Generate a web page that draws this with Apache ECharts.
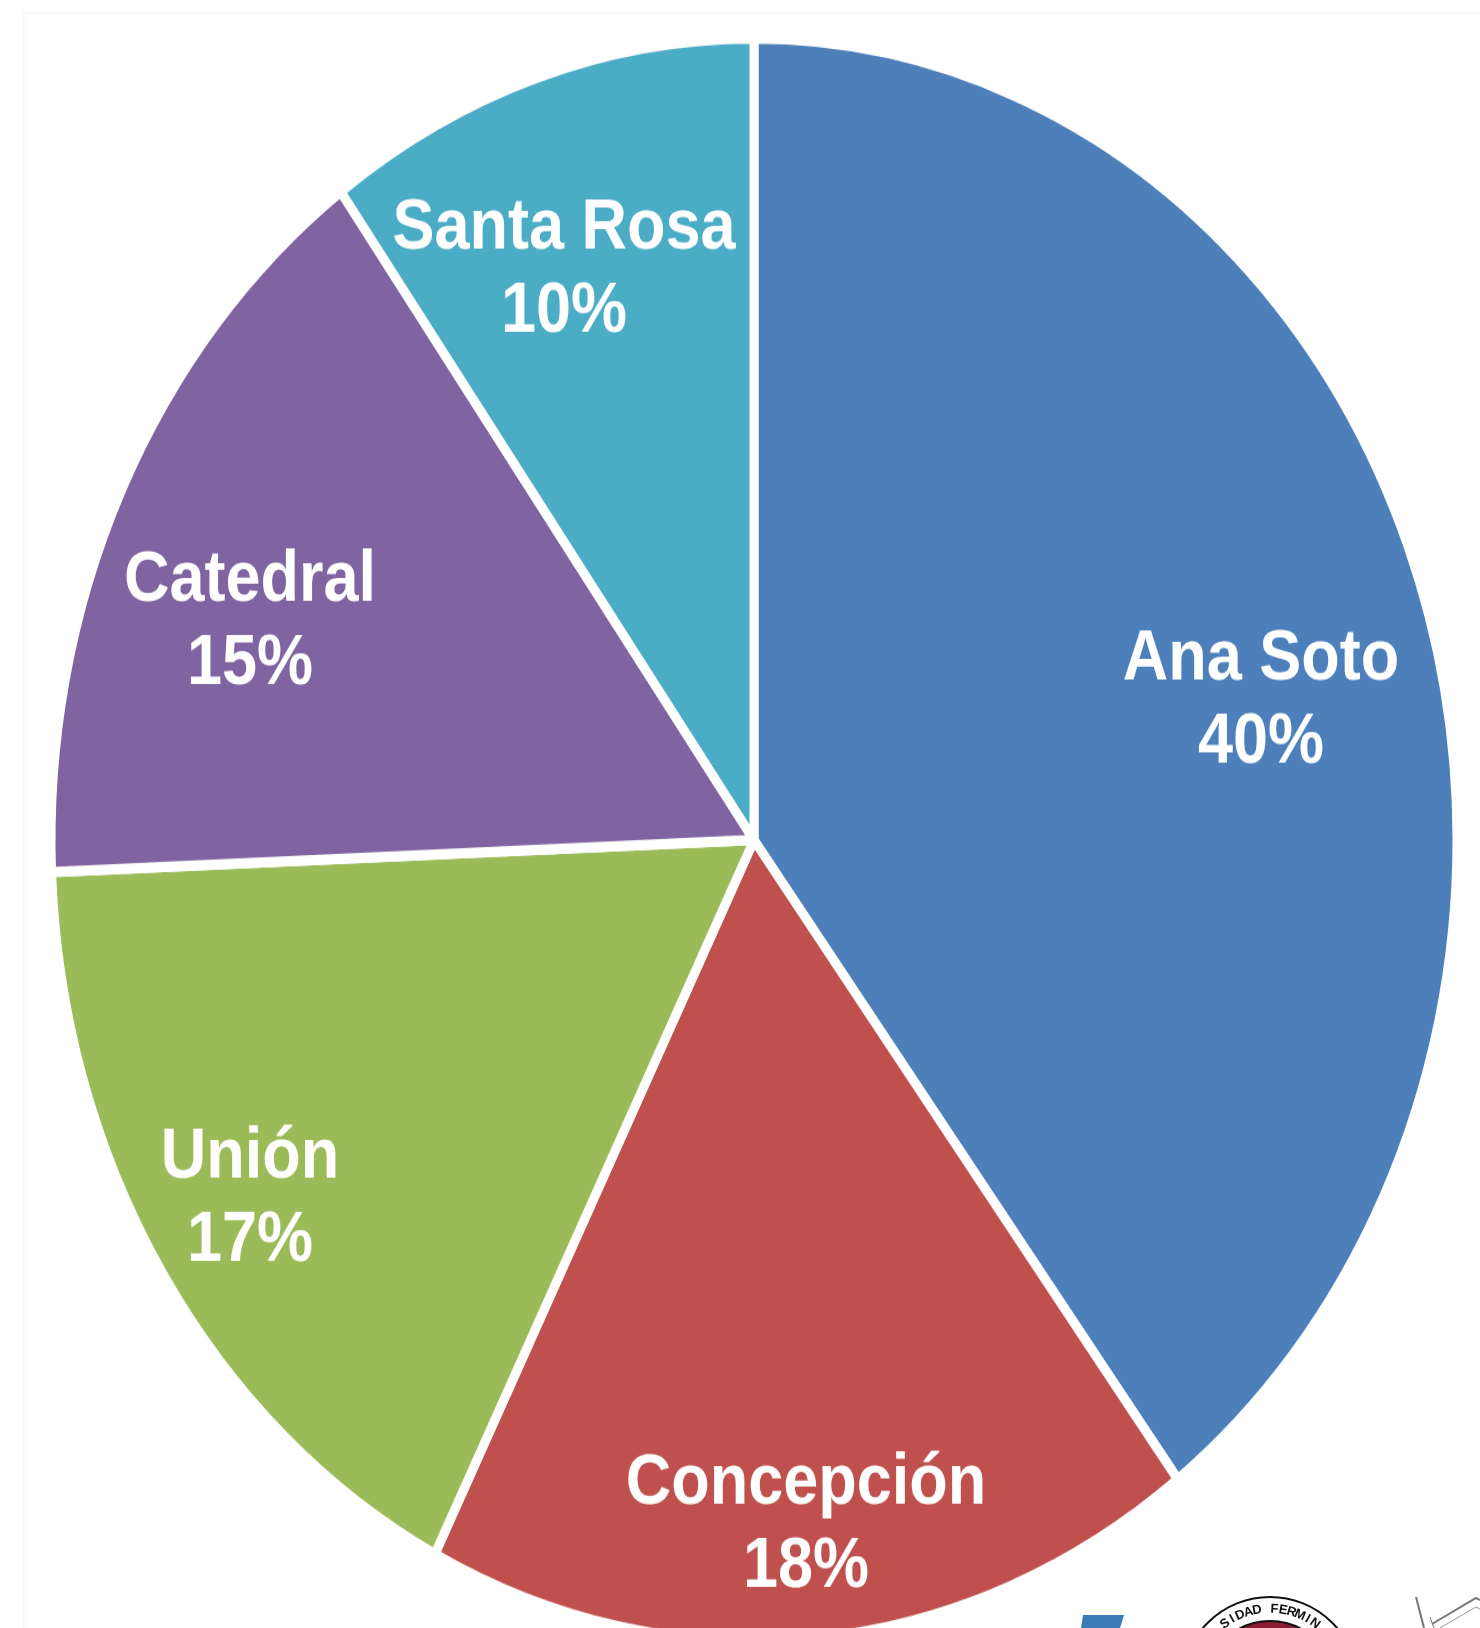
<!DOCTYPE html>
<html>
<head>
<meta charset="utf-8">
<title>Pie</title>
<script src="https://cdn.jsdelivr.net/npm/echarts@6/dist/echarts.min.js"></script>
<style>
    html, body { margin: 0; padding: 0; background: #fff; overflow: hidden; }
    #page { position: relative; width: 1480px; height: 1628px; overflow: hidden; }
    /* the original picture is stretched vertically, so the whole pie is too */
    #pie { position: absolute; left: 0; top: 0; width: 1480px; height: 1429px; transform: scaleY(1.14); transform-origin: 0 0; }
    #extras { position: absolute; left: 0; top: 0; width: 1480px; height: 1628px; }
</style>
</head>
<body>
<div id="page">
    <div id="extras"></div>
    <div id="pie"></div>
</div>
<script>
// slice sizes as measured on the picture, percentLabels is what the picture prints
var categories = ["Ana Soto", "Concepción", "Unión", "Catedral", "Santa Rosa"];
var sliceValues = [39.7, 17.8, 16.86, 15.64, 10.0];
var percentLabels = ["40%", "18%", "17%", "15%", "10%"];
var sliceColors = ["#4D7FBB", "#C0504D", "#9BBB59", "#8064A2", "#4BACC6"];

var STRETCH = 1.14;

// label centres, page pixels
var labelCenters = [[1261, 701], [806, 1525], [250, 1199], [250, 623], [564, 270]];

function initPie() {
    var pieChart = echarts.init(document.getElementById('pie'));

    var pieData = [];
    for (var i = 0; i < categories.length; i++) {
        pieData.push({
            name: categories[i],
            value: sliceValues[i],
            itemStyle: { color: sliceColors[i] }
        });
    }

    pieChart.setOption({
        animation: false,
        backgroundColor: 'transparent',
        series: [{
            type: 'pie',
            center: [754, 840 / STRETCH],
            radius: [0, 703],
            startAngle: 90,
            clockwise: true,
            avoidLabelOverlap: false,
            data: pieData,
            itemStyle: {
                borderColor: '#fff',
                borderWidth: 9
            },
            label: {
                show: true,
                position: 'inside',
                formatter: function (p) {
                    return p.name + "\n" + percentLabels[p.dataIndex];
                },
                color: '#fff',
                fontFamily: '"Liberation Sans", Arial, sans-serif',
                fontWeight: 'bold',
                fontSize: 63,
                lineHeight: 73,
                align: 'center',
                verticalAlign: 'middle'
            },
            labelLine: { show: false },
            labelLayout: function (params) {
                var c = labelCenters[params.dataIndex];
                return { x: c[0], y: c[1] / STRETCH, align: 'center', verticalAlign: 'middle' };
            }
        }]
    });
}

// the faint frame and the logos cut off by the bottom edge
function initExtras() {
    var extras = echarts.init(document.getElementById('extras'));
    var elements = [
        { type: 'rect', shape: { x: 23.5, y: 13.5, width: 1500, height: 1700 }, style: { fill: 'none', stroke: '#f8f8fa', lineWidth: 2 } },
        { type: 'polygon', shape: { points: [[1083, 1615], [1124, 1615], [1120, 1628], [1081, 1628]] }, style: { fill: '#3b7cb8' } },
        { type: 'circle', shape: { cx: 1270, cy: 1685, r: 88 }, style: { fill: '#fff', stroke: '#111', lineWidth: 2 } },
        { type: 'circle', shape: { cx: 1270, cy: 1685, r: 64 }, style: { fill: '#8c1c34', stroke: '#111', lineWidth: 2 } },
        { type: 'polyline', shape: { points: [[1416, 1597], [1424, 1628]] }, style: { fill: 'none', stroke: '#777', lineWidth: 2 } },
        { type: 'polyline', shape: { points: [[1430, 1617], [1434, 1628]] }, style: { fill: 'none', stroke: '#777', lineWidth: 1 } },
        { type: 'polyline', shape: { points: [[1432, 1624], [1476, 1598], [1480, 1600]] }, style: { fill: 'none', stroke: '#777', lineWidth: 2 } },
        { type: 'polyline', shape: { points: [[1440, 1628], [1476, 1607], [1480, 1609]] }, style: { fill: 'none', stroke: '#999', lineWidth: 1 } }
    ];

    var sealText = "SIDAD FERMIN";
    for (var i = 0; i < sealText.length; i++) {
        var a = (i - 5.5) * 6.6 * Math.PI / 180;
        elements.push({
            type: 'text',
            x: 1270 + 76 * Math.sin(a),
            y: 1685 - 76 * Math.cos(a),
            rotation: -a,
            style: { text: sealText.charAt(i), fill: '#111', font: 'bold 13px "Liberation Sans", Arial, sans-serif', align: 'center', verticalAlign: 'middle' }
        });
    }

    extras.setOption({ animation: false, graphic: { elements: elements } });
}

initExtras();
initPie();
</script>
</body>
</html>
